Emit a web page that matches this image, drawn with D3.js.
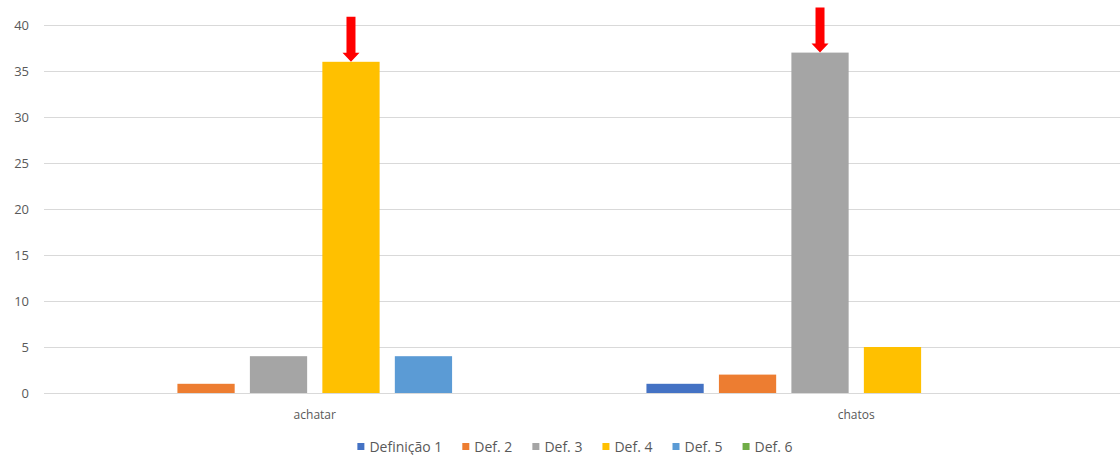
<!DOCTYPE html>
<html>
<head>
<meta charset="utf-8">
<script src="https://cdn.jsdelivr.net/npm/d3@7"></script>
<style>
  body { margin: 0; background: #fff; }
  text { font-family: "Open Sans", "Liberation Sans", sans-serif; fill: #595959; }
</style>
</head>
<body>
<div id="chart-container"></div>
<script>
// Chart data
const categories = ["achatar", "chatos"];
const seriesNames = ["Definição 1", "Def. 2", "Def. 3", "Def. 4", "Def. 5", "Def. 6"];
const seriesColors = ["#4472C4", "#ED7D31", "#A5A5A5", "#FFC000", "#5B9BD5", "#70AD47"];
const achatarValues = [0, 1, 4, 36, 4, 0];
const chatosValues = [1, 2, 37, 5, 0, 0];
const yTicks = [0, 5, 10, 15, 20, 25, 30, 35, 40];
// which bar each red arrow points at: [category, series]
const arrows = [["achatar", "Def. 4"], ["chatos", "Def. 3"]];

const values = { achatar: achatarValues, chatos: chatosValues };

const totalWidth = 1120, totalHeight = 455;
const margin = { top: 25, right: 0, bottom: 62, left: 44 };
const width = totalWidth - margin.left - margin.right;
const height = totalHeight - margin.top - margin.bottom;

const svg = d3.select("#chart-container")
  .append("svg")
  .attr("width", totalWidth)
  .attr("height", totalHeight);

const g = svg.append("g")
  .attr("transform", `translate(${margin.left},${margin.top})`);

// Scales (plot area runs slightly past the right edge of the picture)
const x0 = d3.scaleBand().domain(categories).range([0, width + 7])
  .paddingInner(0.197).paddingOuter(0.0985);
const x1 = d3.scaleBand().domain(seriesNames).range([0, x0.bandwidth()])
  .paddingInner(0.21).paddingOuter(0.105);
const y = d3.scaleLinear().domain([0, 40]).range([height, 0]);

// Gridlines
g.selectAll(".grid")
  .data(yTicks)
  .enter().append("line")
  .attr("x1", 0)
  .attr("x2", width)
  .attr("y1", d => Math.round(y(d)) + 0.5)
  .attr("y2", d => Math.round(y(d)) + 0.5)
  .attr("stroke", "#d9d9d9")
  .attr("stroke-width", 1);

// Y axis labels
const yAxis = g.append("g")
  .call(d3.axisLeft(y).tickValues(yTicks).tickSize(0).tickPadding(15));
yAxis.select(".domain").remove();
yAxis.selectAll("text")
  .style("font-size", "13px")
  .attr("fill", "#595959");

// X axis labels
const xAxis = g.append("g")
  .attr("transform", `translate(0,${height})`)
  .call(d3.axisBottom(x0).tickSize(0).tickPadding(17));
xAxis.select(".domain").remove();
xAxis.selectAll("text")
  .style("font-size", "12px")
  .attr("fill", "#595959");

// Bars
const groups = g.selectAll(".group")
  .data(categories)
  .enter().append("g")
  .attr("transform", d => `translate(${x0(d)},0)`);

groups.selectAll("rect")
  .data(c => seriesNames.map((s, i) => ({ series: s, value: values[c][i], color: seriesColors[i] })))
  .enter().append("rect")
  .attr("x", d => x1(d.series))
  .attr("width", x1.bandwidth())
  .attr("y", d => y(d.value))
  .attr("height", d => y(0) - y(d.value))
  .attr("fill", d => d.color);

// Red arrows pointing to the top of the highlighted bars
arrows.forEach(([cat, ser]) => {
  const i = seriesNames.indexOf(ser);
  const cx = x0(cat) + x1(ser) + x1.bandwidth() / 2;
  const tip = y(values[cat][i]);
  const shaftW = 9, headW = 17, headH = 9, len = 45;
  g.append("path")
    .attr("d", `M${cx - shaftW / 2},${tip - len} L${cx + shaftW / 2},${tip - len}
      L${cx + shaftW / 2},${tip - headH} L${cx + headW / 2},${tip - headH}
      L${cx},${tip} L${cx - headW / 2},${tip - headH}
      L${cx - shaftW / 2},${tip - headH} Z`)
    .attr("fill", "#ff0000");
});

// Legend
const legend = svg.append("g")
  .attr("transform", `translate(0,${totalHeight - 3})`);
const items = legend.selectAll(".item")
  .data(seriesNames)
  .enter().append("g");
items.append("rect")
  .attr("width", 7)
  .attr("height", 7)
  .attr("y", -9)
  .attr("fill", (d, i) => seriesColors[i]);
items.append("text")
  .attr("x", 12)
  .attr("y", 0)
  .style("font-size", "14px")
  .text(d => d);

// Lay out legend items centered
let offsets = [], pos = 0;
items.each(function () {
  offsets.push(pos);
  pos += this.getBBox().width + 20;
});
const legendWidth = pos - 20;
const startX = (totalWidth - legendWidth) / 2 + 15;
items.attr("transform", (d, i) => `translate(${startX + offsets[i]},0)`);
</script>
</body>
</html>
